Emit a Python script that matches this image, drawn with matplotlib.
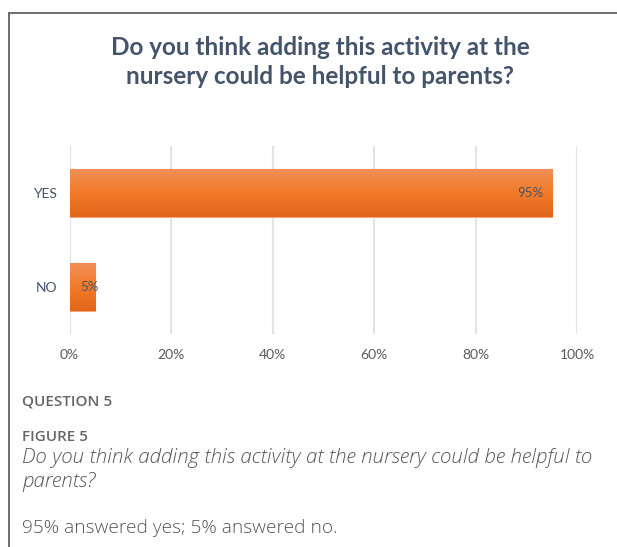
import numpy as np
import matplotlib.pyplot as plt
from matplotlib.lines import Line2D
from matplotlib.colors import LinearSegmentedColormap

# data
categories = ['NO', 'YES']
values = [5, 95]
value_labels = ['5%', '95%']
x_ticks = [0, 20, 40, 60, 80, 100]
x_tick_labels = ['0%', '20%', '40%', '60%', '80%', '100%']

title = 'Do you think adding this activity at the\nnursery could be helpful to parents?'

W, H = 617, 547
fig = plt.figure(figsize=(W / 100, H / 100), dpi=100)

# frame around chart (top + left)
fig.add_artist(Line2D([9 / W, 1], [1 - 12.5 / H, 1 - 12.5 / H], color='#6b6b6b', lw=1.4))
fig.add_artist(Line2D([9 / W, 9 / W], [0, 1 - 12.5 / H], color='#6b6b6b', lw=1.4))

fig.text(320 / W, 1 - 62 / H, title, ha='center', va='center', fontsize=17.5,
         fontweight='bold', color='#44546A', family='Lato', linespacing=1.35)

ax = fig.add_axes([69.5 / W, 1 - 334 / H, 507.5 / W, 188 / H])
ypos = np.arange(len(categories))
bars = ax.barh(ypos, values, height=0.52, color='#F07B2C', edgecolor='#F4A57A', linewidth=0.8, zorder=2)

# gradient fill on each bar
cmap = LinearSegmentedColormap.from_list('og', ['#E2661A', '#F27B2A', '#F0905A'])
grad = np.linspace(0, 1, 100).reshape(-1, 1)
for b in bars:
    x0, y0, w, h = b.get_x(), b.get_y(), b.get_width(), b.get_height()
    im = ax.imshow(grad, cmap=cmap, aspect='auto', origin='lower',
                   extent=[x0, x0 + w, y0, y0 + h], zorder=2.5)
    im.set_clip_path(b)

# value labels
ax.annotate(value_labels[1], (values[1], ypos[1]), xytext=(-6, 0), textcoords='offset points',
            ha='right', va='center', fontsize=9.5, color='#44546A', family='Lato', zorder=4)
ax.annotate(value_labels[0], (values[0], ypos[0]), xytext=(3, 0), textcoords='offset points',
            ha='right', va='center', fontsize=9.5, color='#44546A', family='Lato', zorder=4)

ax.set_xlim(0, 100)
ax.set_ylim(-0.5, 1.5)
ax.set_xticks(x_ticks)
ax.set_xticklabels(x_tick_labels, fontsize=10, color='#595959', family='Lato')
ax.set_yticks(ypos)
ax.set_yticklabels(categories, fontsize=10, color='#44546A', family='Lato')
ax.tick_params(axis='x', length=0, pad=11)
ax.tick_params(axis='y', length=0, pad=9)
ax.grid(axis='x', color='#E1E4E9', lw=1.6, zorder=0)
for s in ax.spines.values():
    s.set_visible(False)

cap_color = '#666666'
fig.text(22 / W, 1 - 402 / H, 'QUESTION 5', ha='left', va='center', fontsize=11,
         fontweight='semibold', color=cap_color, family='Open Sans')
fig.text(22 / W, 1 - 437 / H, 'FIGURE 5', ha='left', va='center', fontsize=11,
         fontweight='semibold', color=cap_color, family='Open Sans')
fig.text(22 / W, 1 - 470 / H,
         'Do you think adding this activity at the nursery could be helpful to\nparents?',
         ha='left', va='center', fontsize=14.8, style='italic', fontweight='light',
         color='#555555', family='Open Sans', linespacing=1.2)
fig.text(22 / W, 1 - 528 / H, '95% answered yes; 5% answered no.', ha='left', va='center',
         fontsize=13.8, fontweight='light', color='#555555', family='Open Sans')

fig.savefig('out.png', dpi=100)
